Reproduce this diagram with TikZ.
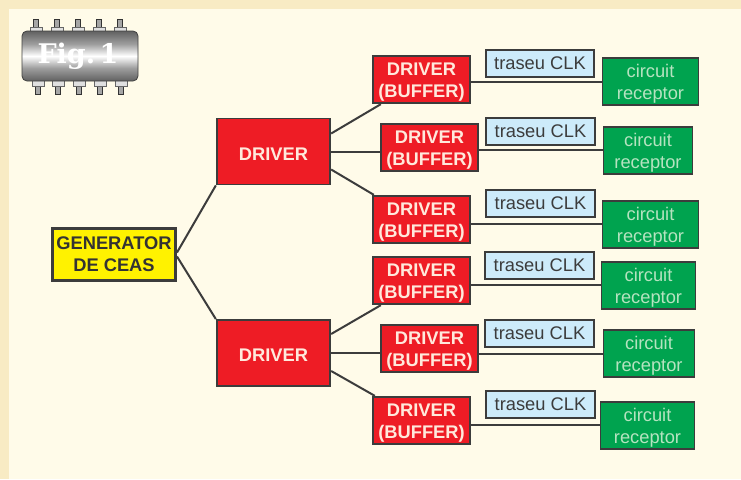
\documentclass[tikz,border=0pt]{standalone}
\usepackage{fontspec}
\setmainfont{Liberation Sans}
\newfontfamily\figfont{DejaVu Serif}
\usetikzlibrary{calc}
\definecolor{paper}{HTML}{FFFBE9}
\definecolor{rim}{HTML}{F8EBC4}
\definecolor{edge}{HTML}{3C3C3C}
\definecolor{redbox}{HTML}{EE1C25}
\definecolor{greenbox}{HTML}{00A34F}
\definecolor{bluebox}{HTML}{CDEBFA}
\definecolor{yellowbox}{HTML}{FFF200}
\definecolor{softgreen}{HTML}{B5E3C0}
\definecolor{softwhite}{HTML}{FFE9DC}
\pgfdeclareverticalshading{chipshade}{100bp}{
  color(0bp)=(black!72);
  color(25bp)=(black!62);
  color(38bp)=(black!38);
  color(50bp)=(white);
  color(62bp)=(black!38);
  color(75bp)=(black!62);
  color(100bp)=(black!72)}
\newcommand{\tstrut}{\rule{0pt}{17pt}}
\tikzset{
  x=1pt,y=-1pt,
  box/.style={draw=edge,line width=1.8pt,inner sep=0pt,align=center,font=\fontsize{18.3}{22}\selectfont},
  bigdrv/.style={box,fill=redbox,text=softwhite,minimum width=113.5pt,minimum height=66pt,font=\fontsize{18.3}{22}\selectfont\bfseries},
  buf/.style={box,fill=redbox,text=softwhite,minimum width=97.5pt,minimum height=47.5pt,font=\fontsize{18.3}{22}\selectfont\bfseries},
  trace/.style={box,fill=bluebox,text=edge,minimum width=108.5pt,minimum height=27.5pt},
  recv/.style={box,fill=greenbox,text=softgreen,minimum height=47.5pt},
  gen/.style={box,fill=yellowbox,text=black!80,line width=3pt,minimum width=123pt,minimum height=52pt,font=\fontsize{18.3}{22}\selectfont\bfseries},
  wire/.style={draw=edge,line width=2pt},
  pin/.style={fill=black!35,draw=black!80,line width=.8pt},
  pinbase/.style={fill=black!12,draw=black!60,line width=.6pt},
}
\begin{document}
\begin{tikzpicture}
\useasboundingbox (0,0) rectangle (741,479);
\fill[rim] (0,0) rectangle (741,479);
\fill[paper] (9,9) rectangle (741,479);
% chip
\foreach \p in {36,57,78,99,120}{
  \filldraw[pin] (\p-2.5,19) rectangle (\p+2.5,27);
  \filldraw[pinbase] (\p-6,27) rectangle (\p+6,34);
}
\foreach \p in {38,58,79,100,121}{
  \filldraw[pin] (\p-2.5,86) rectangle (\p+2.5,94);
  \filldraw[pinbase] (\p-6,79) rectangle (\p+6,86);
}
\shade[rounded corners=5pt,draw=black!75,line width=.8pt,shading=chipshade] (22,31) rectangle (138,81);
\node (figlabel) at (78,56.5) [text=white,font=\fontsize{27}{27}\figfont\bfseries,inner sep=0pt] {Fig.\,1};
% nodes
\node[gen] (g) at (114,254.5) {GENERATOR\\DE CEAS};
\node[bigdrv] (d1) at (273.5,151.5) {\tstrut DRIVER};
\node[bigdrv] (d2) at (273.5,353) {\tstrut DRIVER};
\foreach \n/\x/\y in {1/421.5/79.5,2/429.5/147.5,3/421.5/219.5,4/421.5/280.5,5/429.5/348.5,6/421.5/420.5}
  \node[buf] (b\n) at (\x,\y) {\tstrut DRIVER\\(BUFFER)};
\foreach \n/\x/\y in {1/540/63.5,2/540.5/131.5,3/540.5/203.5,4/539.5/265.5,5/539.5/333.5,6/540.5/404.5}
  \node[trace] (t\n) at (\x,\y) {traseu CLK};
\foreach \n/\x/\y/\w in {1/650.5/81.5/96,2/648/150.5/89,3/650.5/224.5/96,4/648.5/285.5/94,5/649/353.5/91,6/647.5/425.5/94}
  \node[recv,minimum width=\w pt] (r\n) at (\x,\y) {\tstrut circuit\\receptor};
% connectors
\draw[wire] (g.east) ++(0,-2) -- (d1.south west);
\draw[wire] (g.east) ++(0,2) -- (d2.north west);
\draw[wire] ([yshift=18pt]d1.east) -- ([xshift=9pt]b1.south west);
\draw[wire] (d1.east) -- (d1.east -| b2.west);
\draw[wire] ([yshift=-18pt]d1.east) -- ([xshift=2pt]b3.north west);
\draw[wire] ([yshift=19pt]d2.east) -- ([xshift=9pt]b4.south west);
\draw[wire] (d2.east) -- (d2.east -| b5.west);
\draw[wire] ([yshift=-18pt]d2.east) -- ([xshift=3pt]b6.north west);
\foreach \n/\o in {1/-2,2/-2.5,3/-4.5,4/-4.5,5/-5,6/-4}
  \draw[wire] ([yshift=\o pt]b\n.east) -- ([yshift=\o pt]b\n.east -| r\n.west);
\end{tikzpicture}
\end{document}
